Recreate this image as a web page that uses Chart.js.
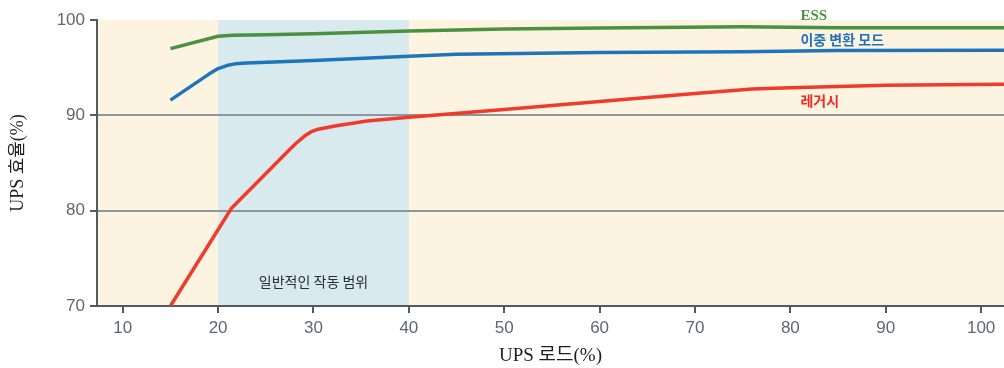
<!DOCTYPE html>
<html>
<head>
<meta charset="utf-8">
<script src="https://cdn.jsdelivr.net/npm/chart.js@4/dist/chart.umd.min.js"></script>
<style>
  html, body { margin: 0; padding: 0; background: #fff; }
  #wrap { width: 1004px; height: 368px; }
</style>
</head>
<body>
<div id="wrap"><canvas id="upsChart"></canvas></div>
<script>
// data
const xTicks = [10, 20, 30, 40, 50, 60, 70, 80, 90, 100];
const yTicks = [70, 80, 90, 100];

const essLoad = [15, 20, 21.5, 25, 30, 40, 50, 60, 75, 85, 102.4];
const essEff = [97.0, 98.3, 98.4, 98.45, 98.55, 98.85, 99.05, 99.15, 99.3, 99.2, 99.2];

const dualLoad = [15, 19, 20, 21, 21.8, 23, 30, 40, 45, 60, 75, 85, 102.4];
const dualEff = [91.6, 94.3, 94.9, 95.25, 95.4, 95.5, 95.75, 96.2, 96.4, 96.6, 96.68, 96.8, 96.82];

const legacyLoad = [15, 21.4, 27.4, 28.2, 29.1, 29.8, 30.5, 32.4, 35.6, 40, 50, 60, 70, 76, 80, 90, 102.4];
const legacyEff = [70, 80.25, 86.3, 87.1, 87.85, 88.3, 88.55, 88.9, 89.4, 89.8, 90.6, 91.45, 92.3, 92.75, 92.9, 93.15, 93.25];

const seriesNames = ['ESS', '이중 변환 모드', '레거시'];
const bandRange = [20, 40];
const bandLabel = '일반적인 작동 범위';

const axisColor = '#4f5a62';
const tickTextColor = '#5d6870';

const toPoints = (xs, ys) => xs.map((x, i) => ({ x, y: ys[i] }));

// beige plot background plus the blue "normal range" band
const bandsPlugin = {
  id: 'bands',
  beforeDraw(chart) {
    const { ctx, chartArea: a, scales: { x } } = chart;
    ctx.save();
    ctx.fillStyle = '#fdf3e1';
    ctx.fillRect(a.left, a.top, a.right - a.left, a.bottom - a.top);
    const x1 = x.getPixelForValue(bandRange[0]);
    const x2 = x.getPixelForValue(bandRange[1]);
    ctx.fillStyle = '#d9eaef';
    ctx.fillRect(x1, a.top, x2 - x1, a.bottom - a.top);
    ctx.restore();
  }
};

// series names written next to the lines, plus band caption
const labelsPlugin = {
  id: 'lineLabels',
  afterDatasetsDraw(chart) {
    const { ctx, scales: { x, y } } = chart;
    ctx.save();
    ctx.textBaseline = 'middle';

    ctx.textAlign = 'left';
    ctx.fillStyle = '#4a9540';
    ctx.font = 'bold 15px "Liberation Serif", serif';
    ctx.fillText(seriesNames[0], x.getPixelForValue(81.05), y.getPixelForValue(100.45));

    ctx.fillStyle = '#1f72b8';
    ctx.font = 'bold 14px "Noto Sans CJK KR", sans-serif';
    ctx.fillText(seriesNames[1], x.getPixelForValue(81.05), y.getPixelForValue(97.9));

    ctx.fillStyle = '#ee2b24';
    ctx.fillText(seriesNames[2], x.getPixelForValue(81.05), y.getPixelForValue(91.5));

    ctx.textAlign = 'center';
    ctx.fillStyle = '#2b2f33';
    ctx.font = '14px "Noto Sans CJK KR", sans-serif';
    ctx.fillText(bandLabel, x.getPixelForValue(30), y.getPixelForValue(72.6));
    ctx.restore();
  }
};

const lineStyle = {
  borderWidth: 3.5,
  pointRadius: 0,
  tension: 0,
  borderJoinStyle: 'round',
  fill: false
};

new Chart(document.getElementById('upsChart').getContext('2d'), {
  type: 'line',
  data: {
    datasets: [
      { ...lineStyle, label: seriesNames[0], data: toPoints(essLoad, essEff), borderColor: '#4a9140' },
      { ...lineStyle, label: seriesNames[1], data: toPoints(dualLoad, dualEff), borderColor: '#1f75bb' },
      { ...lineStyle, label: seriesNames[2], data: toPoints(legacyLoad, legacyEff), borderColor: '#ee3b2b' }
    ]
  },
  options: {
    responsive: true,
    maintainAspectRatio: false,
    animation: false,
    layout: { padding: { top: 20, right: 0, left: 0, bottom: 0 } },
    plugins: {
      legend: { display: false },
      tooltip: { enabled: false }
    },
    scales: {
      x: {
        type: 'linear',
        min: 7.3,
        max: 102.4,
        afterBuildTicks: (scale) => { scale.ticks = xTicks.map(v => ({ value: v })); },
        afterFit: (scale) => { scale.height = 62; },
        border: { color: axisColor, width: 2 },
        grid: { drawOnChartArea: false, tickLength: 7, tickColor: axisColor, lineWidth: 2 },
        ticks: {
          color: tickTextColor,
          padding: 5,
          maxRotation: 0,
          font: { family: '"Liberation Sans", Arial, sans-serif', size: 17 }
        },
        title: {
          display: true,
          text: 'UPS 로드(%)',
          color: '#1e1e1e',
          padding: { top: 0, bottom: 1 },
          font: { family: '"Liberation Serif", "Noto Sans CJK KR", serif', size: 19 }
        }
      },
      y: {
        min: 70,
        max: 100,
        afterBuildTicks: (scale) => { scale.ticks = yTicks.map(v => ({ value: v })); },
        afterFit: (scale) => { scale.width = 97; },
        border: { color: axisColor, width: 2 },
        grid: {
          color: (c) => (c.tick && (c.tick.value === 80 || c.tick.value === 90)) ? '#8c969c' : 'rgba(0,0,0,0)',
          lineWidth: 2,
          tickLength: 7,
          tickColor: axisColor
        },
        ticks: {
          color: tickTextColor,
          padding: 5,
          font: { family: '"Liberation Sans", Arial, sans-serif', size: 17 }
        },
        title: {
          display: true,
          text: 'UPS 효율(%)',
          color: '#1e1e1e',
          padding: { top: 7, bottom: 0 },
          font: { family: '"Liberation Serif", "Noto Sans CJK KR", serif', size: 18 }
        }
      }
    }
  },
  plugins: [bandsPlugin, labelsPlugin]
});
</script>
</body>
</html>
